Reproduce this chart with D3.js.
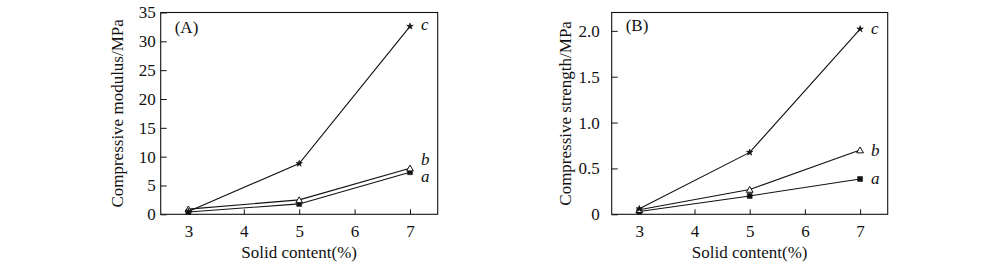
<!DOCTYPE html>
<html>
<head>
<meta charset="utf-8">
<script src="https://cdn.jsdelivr.net/npm/d3@7"></script>
<style>
  html, body { margin: 0; padding: 0; background: #fff; }
  svg { display: block; }
  text { font-family: "Liberation Serif", "Times New Roman", serif; fill: #111; }
</style>
</head>
<body>
<svg id="chart" width="1000" height="270"></svg>
<script>
// ---- data ----
const solidContent = [3, 5, 7];
const xTicks = [3, 4, 5, 6, 7];
const xTickLabels = ["3", "4", "5", "6", "7"];
const seriesNames = ["a", "b", "c"];

// Panel A: compressive modulus (MPa)
const modulusA = [0.4, 1.8, 7.3];
const modulusB = [0.9, 2.5, 8.0];
const modulusC = [0.5, 8.8, 32.6];
const modulusTicks = [0, 5, 10, 15, 20, 25, 30, 35];
const modulusTickLabels = ["0", "5", "10", "15", "20", "25", "30", "35"];

// Panel B: compressive strength (MPa)
const strengthA = [0.03, 0.20, 0.385];
const strengthB = [0.05, 0.27, 0.70];
const strengthC = [0.06, 0.675, 2.02];
const strengthTicks = [0, 0.5, 1.0, 1.5, 2.0];
const strengthTickLabels = ["0", "0.5", "1.0", "1.5", "2.0"];

const svg = d3.select("#chart");
const FONT = "'Liberation Serif', 'Times New Roman', serif";

const symbols = { a: d3.symbolSquare, b: d3.symbolTriangle, c: d3.symbolStar };
const symSize = { a: 24, b: 20, c: 13 };

function panel(cfg) {
  const x = d3.scaleLinear().domain([2.5, 7.5]).range([cfg.left, cfg.right]);
  const y = d3.scaleLinear().domain(cfg.yDomain).range([214.3, 12.5]);
  const g = svg.append("g");

  // frame
  g.append("rect")
    .attr("x", x(2.5)).attr("y", y(cfg.yDomain[1]))
    .attr("width", x(7.5) - x(2.5)).attr("height", y(0) - y(cfg.yDomain[1]))
    .attr("fill", "none").attr("stroke", "#111").attr("stroke-width", 1.1);

  // x axis (inward ticks)
  const xAxis = d3.axisBottom(x).tickValues(xTicks)
    .tickFormat((d, i) => xTickLabels[i]).tickSizeInner(-5).tickSizeOuter(0).tickPadding(11);
  const gx = g.append("g").attr("transform", `translate(0,${y(0)})`).call(xAxis);
  gx.select(".domain").remove();
  gx.selectAll("line").attr("stroke", "#111");
  gx.selectAll("text").attr("font-size", 17).attr("fill", "#111").attr("font-family", FONT);

  // y axis (inward ticks)
  const yAxis = d3.axisLeft(y).tickValues(cfg.yTicks)
    .tickFormat((d, i) => cfg.yTickLabels[i]).tickSizeInner(-6).tickSizeOuter(0).tickPadding(cfg.yPad);
  const gy = g.append("g").attr("transform", `translate(${x(2.5)},0)`).call(yAxis);
  gy.select(".domain").remove();
  gy.selectAll("line").attr("stroke", "#111");
  gy.selectAll("text").attr("font-size", 17).attr("fill", "#111").attr("font-family", FONT);

  // axis titles
  g.append("text")
    .attr("x", x(5)).attr("y", 258)
    .attr("text-anchor", "middle").attr("font-size", 17)
    .text("Solid content(%)");
  g.append("text")
    .attr("transform", `translate(${cfg.yTitleX},${(y(0) + y(cfg.yDomain[1])) / 2}) rotate(-90)`)
    .attr("text-anchor", "middle").attr("font-size", 17)
    .text(cfg.yTitle);

  // panel tag
  g.append("text")
    .attr("x", x(2.5) + cfg.tagDx).attr("y", cfg.tagY)
    .attr("font-size", 17).text(cfg.tag);

  // series
  const line = d3.line().x((d, i) => x(solidContent[i])).y(d => y(d));
  seriesNames.forEach((name, k) => {
    const vals = cfg.series[k];
    g.append("path").datum(vals)
      .attr("d", line).attr("fill", "none")
      .attr("stroke", "#111").attr("stroke-width", 1.1);
    const sym = d3.symbol().type(symbols[name]).size(symSize[name]);
    g.selectAll(null).data(vals).enter().append("path")
      .attr("d", sym)
      .attr("transform", (d, i) => `translate(${x(solidContent[i])},${y(d) + (name === "b" ? 0.8 : 0)})`)
      .attr("fill", name === "b" ? "#fff" : "#111")
      .attr("stroke", "#111").attr("stroke-width", name === "b" ? 1 : 0.6);
    // series label
    g.append("text")
      .attr("x", x(7) + 11)
      .attr("y", y(vals[vals.length - 1]) + cfg.labelDy[k])
      .attr("font-size", 17).attr("font-style", "italic")
      .text(name);
  });
}

panel({
  left: 160.7, right: 437.7,
  yDomain: [0, 35], yTicks: modulusTicks, yTickLabels: modulusTickLabels, yPad: 5,
  yTitle: "Compressive modulus/MPa", yTitleX: 123,
  tag: "(A)", tagDx: 14, tagY: 33,
  series: [modulusA, modulusB, modulusC],
  labelDy: [10, -3, 4]
});

panel({
  left: 611.7, right: 887.7,
  yDomain: [0, 2.2], yTicks: strengthTicks, yTickLabels: strengthTickLabels, yPad: 12,
  yTitle: "Compressive strength/MPa", yTitleX: 571,
  tag: "(B)", tagDx: 14, tagY: 31,
  series: [strengthA, strengthB, strengthC],
  labelDy: [5, 6, 5]
});
</script>
</body>
</html>
